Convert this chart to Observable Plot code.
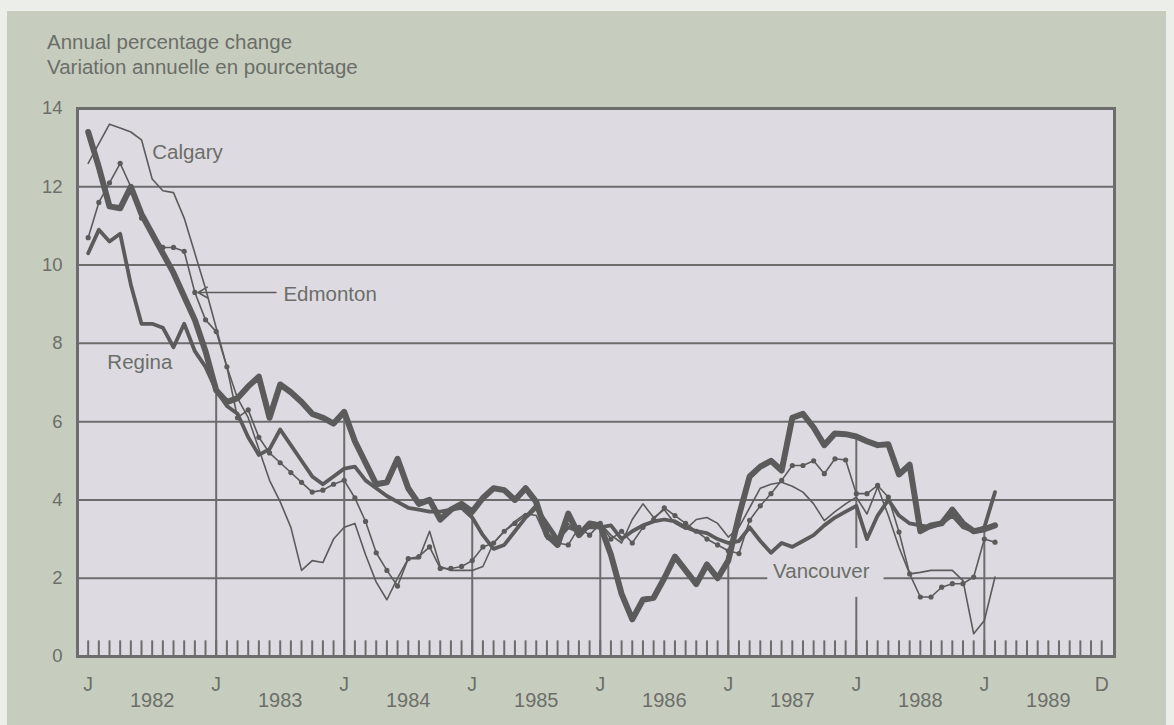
<!DOCTYPE html>
<html>
<head>
<meta charset="utf-8">
<script src="https://cdn.jsdelivr.net/npm/d3@7"></script>
<script src="https://cdn.jsdelivr.net/npm/@observablehq/plot@0.6"></script>
<style>
  html, body { margin: 0; padding: 0; background: #eceee9; }
  #wrap { position: relative; width: 1174px; height: 725px; overflow: hidden; background: #eceee9; }
  #panel { position: absolute; left: 7px; top: 11px; right: 8px; bottom: 0; background: #c7cdbe; }
  #head { position: relative; height: 90px; }
  .hl { position: absolute; left: 47px; font-family: "Liberation Sans", Arial, sans-serif; font-size: 20.5px; line-height: 20px; color: #6b6e69; white-space: nowrap; }
  #chart { position: relative; }
</style>
</head>
<body>
<div id="wrap">
  <div id="panel"></div>
  <div id="head">
    <div class="hl" style="top:32px">Annual percentage change</div>
    <div class="hl" style="top:57px">Variation annuelle en pourcentage</div>
  </div>
  <div id="chart"></div>
</div>
<script>
// Month index 0 = January 1982 ... 85 = February 1989
const calgary = [12.6,13.1,13.6,13.5,13.4,13.2,12.2,11.9,11.85,11.2,10.3,9.4,
  8.4,7.4,6.6,6.1,5.3,4.5,3.95,3.3,2.2,2.45,2.4,3.0,
  3.3,3.4,2.6,1.9,1.45,2.0,2.5,2.5,3.2,2.3,2.2,2.2,
  2.2,2.3,2.9,3.2,3.45,3.65,3.6,3.0,2.9,3.4,3.1,3.3,
  3.4,3.1,2.9,3.5,3.9,3.55,3.75,3.4,3.25,3.5,3.55,3.4,
  3.05,3.3,3.8,4.3,4.4,4.45,4.35,4.2,3.9,3.47,3.7,3.9,
  4.07,3.64,4.33,3.6,2.79,2.11,2.15,2.2,2.2,2.2,1.94,0.58,
  0.92,2.03];
const edmonton = [10.7,11.6,12.1,12.6,12.0,11.2,10.8,10.45,10.45,10.35,9.3,8.6,
  8.3,7.4,6.1,6.3,5.6,5.2,4.95,4.7,4.45,4.2,4.25,4.4,
  4.5,4.05,3.45,2.65,2.2,1.8,2.5,2.55,2.8,2.25,2.25,2.3,
  2.45,2.8,2.9,3.2,3.4,3.6,3.9,3.3,2.9,2.85,3.3,3.1,
  3.4,3.0,3.2,2.9,3.3,3.5,3.8,3.6,3.4,3.2,3.0,2.85,
  2.7,2.63,3.48,3.85,4.16,4.5,4.88,4.88,5.0,4.67,5.05,5.02,
  4.16,4.16,4.37,4.07,3.18,2.11,1.52,1.52,1.77,1.86,1.86,2.03,
  3.0,2.92];
const regina = [10.3,10.9,10.6,10.8,9.5,8.5,8.5,8.4,7.9,8.5,7.8,7.4,
  6.8,6.4,6.2,5.6,5.15,5.3,5.8,5.4,5.0,4.6,4.4,4.6,
  4.8,4.85,4.5,4.3,4.1,3.95,3.8,3.75,3.7,3.7,3.75,3.8,
  3.55,3.1,2.75,2.85,3.2,3.55,3.8,3.4,3.0,3.3,3.2,3.3,
  3.3,3.35,3.0,3.2,3.35,3.45,3.5,3.45,3.3,3.2,3.15,3.0,
  2.9,2.95,3.3,2.95,2.65,2.9,2.8,2.95,3.1,3.35,3.55,3.7,
  3.85,3.0,3.6,4.0,3.6,3.4,3.35,3.3,3.4,3.6,3.3,3.2,
  3.3,4.2];
const vancouver = [13.4,12.5,11.5,11.45,12.0,11.3,10.8,10.3,9.8,9.2,8.6,7.8,
  6.8,6.5,6.6,6.9,7.15,6.1,6.95,6.75,6.5,6.2,6.1,5.95,
  6.25,5.5,4.95,4.4,4.45,5.05,4.3,3.9,4.0,3.5,3.75,3.9,
  3.7,4.05,4.3,4.25,4.0,4.3,3.95,3.1,2.85,3.65,3.1,3.4,
  3.35,2.6,1.6,0.95,1.45,1.5,2.0,2.55,2.2,1.85,2.35,2.0,
  2.45,3.6,4.6,4.85,5.0,4.75,6.1,6.2,5.85,5.4,5.7,5.68,
  5.62,5.5,5.4,5.42,4.65,4.9,3.2,3.35,3.4,3.75,3.4,3.2,
  3.25,3.35];

const yTicks = [0, 2, 4, 6, 8, 10, 12, 14];
const gridLines = [2, 4, 6, 8, 10, 12];
const januaries = [0, 12, 24, 36, 48, 60, 72, 84];
const monthLabels = ["J", "J", "J", "J", "J", "J", "J", "J", "D"];
const monthLabelPos = [0, 12, 24, 36, 48, 60, 72, 84, 95];
const years = ["1982", "1983", "1984", "1985", "1986", "1987", "1988", "1989"];
const yearPos = [6, 18, 30, 42, 54, 66, 78, 90];
const months = d3.range(0, 96);

const cities = ["Calgary", "Edmonton", "Regina", "Vancouver"];
const values = [calgary, edmonton, regina, vancouver];
const rows = cities.flatMap((c, i) => values[i].map((v, m) => ({city: c, m, v})));

const cityLabels = [
  {text: "Calgary", m: 6.0, v: 12.88},
  {text: "Edmonton", m: 18.3, v: 9.25},
  {text: "Regina", m: 1.8, v: 7.52},
  {text: "Vancouver", m: 64.2, v: 2.17}
];
const edmontonArrow = [{m1: 17.6, m2: 10.3, v: 9.3}];
const vancouverGap = [{m1: 63.7, m2: 74.6, v1: 1.51, v2: 2.76}];

const ink = "#5b5b5b";
const grid = "#6c6c6c";
const txt = "#6b6e69";
const plotBg = "#dddbe1";
const font = "'Liberation Sans', Arial, sans-serif";

const chart = Plot.plot({
  width: 1174,
  height: 635,
  marginLeft: 77,
  marginRight: 60,
  marginTop: 18,
  marginBottom: 69,
  x: {type: "linear", domain: [-1, 96.2], axis: null},
  y: {domain: [0, 14], axis: null},
  style: {background: "transparent", fontFamily: font, color: txt, overflow: "visible"},
  marks: [
    Plot.frame({fill: plotBg, stroke: null}),
    Plot.ruleY(gridLines, {stroke: grid, strokeWidth: 2}),
    Plot.ruleX(months, {x: d => d, y1: 0, y2: 0.4, stroke: grid, strokeWidth: 2}),
    Plot.ruleX(januaries.slice(1), {x: d => d, y1: 0, y2: d => vancouver[d], stroke: grid, strokeWidth: 2}),
    Plot.rect(vancouverGap, {x1: "m1", x2: "m2", y1: "v1", y2: "v2", fill: plotBg}),
    Plot.line(rows.filter(d => d.city === "Calgary"), {x: "m", y: "v", stroke: ink, strokeWidth: 1.6, strokeLinejoin: "round"}),
    Plot.line(rows.filter(d => d.city === "Edmonton"), {x: "m", y: "v", stroke: ink, strokeWidth: 1.6, strokeLinejoin: "round"}),
    Plot.dot(rows.filter(d => d.city === "Edmonton"), {x: "m", y: "v", r: 2.6, fill: ink, stroke: null}),
    Plot.line(rows.filter(d => d.city === "Regina"), {x: "m", y: "v", stroke: ink, strokeWidth: 3.8, strokeLinejoin: "round"}),
    Plot.line(rows.filter(d => d.city === "Vancouver"), {x: "m", y: "v", stroke: ink, strokeWidth: 6, strokeLinejoin: "round"}),
    Plot.arrow(edmontonArrow, {x1: "m1", x2: "m2", y1: "v", y2: "v", stroke: ink, strokeWidth: 1.6, headLength: 10}),
    Plot.frame({stroke: grid, strokeWidth: 3}),
    Plot.text(cityLabels, {x: "m", y: "v", text: "text", textAnchor: "start", lineAnchor: "middle", fontSize: 20.5, fill: txt}),
    Plot.text(yTicks, {x: -1, y: d => d, text: d => String(d), textAnchor: "end", lineAnchor: "middle", dx: -15, fontSize: 18.5, fill: txt}),
    Plot.text(monthLabels, {x: (d, i) => monthLabelPos[i], y: 0, text: d => d, lineAnchor: "middle", dy: 28, fontSize: 19.5, fill: txt}),
    Plot.text(years, {x: (d, i) => yearPos[i], y: 0, text: d => d, lineAnchor: "middle", dy: 44, fontSize: 20, fill: txt})
  ]
});
document.getElementById("chart").appendChild(chart);
</script>
</body>
</html>
